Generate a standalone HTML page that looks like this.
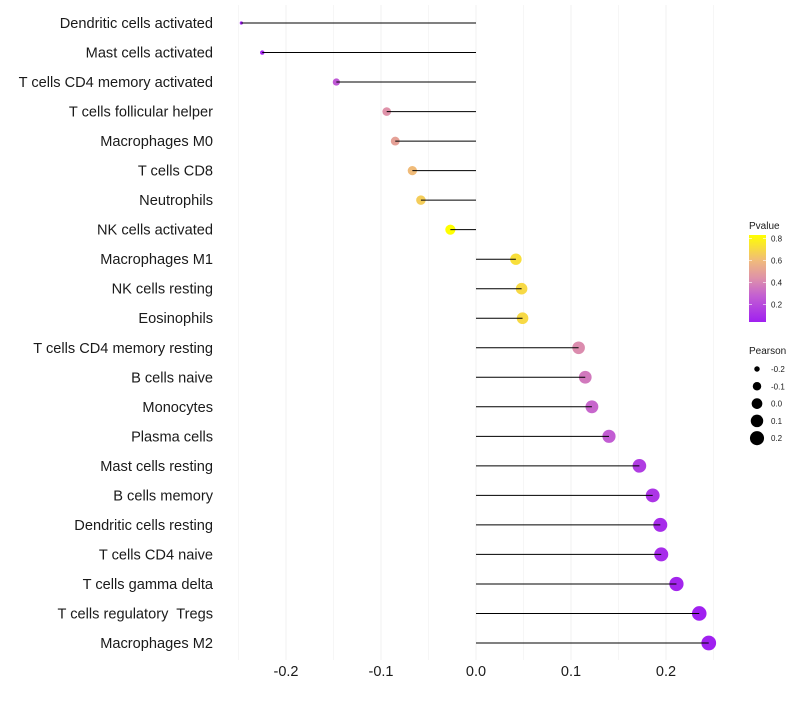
<!DOCTYPE html>
<html><head><meta charset="utf-8">
<style>
body{margin:0;background:#fff;font-family:"Liberation Sans",sans-serif;}
svg text{font-family:"Liberation Sans",sans-serif;white-space:pre;}
</style></head>
<body>
<svg id="chart" width="800" height="700" xmlns="http://www.w3.org/2000/svg"></svg>
<script>
const categories=["Dendritic cells activated","Mast cells activated","T cells CD4 memory activated","T cells follicular helper","Macrophages M0","T cells CD8","Neutrophils","NK cells activated","Macrophages M1","NK cells resting","Eosinophils","T cells CD4 memory resting","B cells naive","Monocytes","Plasma cells","Mast cells resting","B cells memory","Dendritic cells resting","T cells CD4 naive","T cells gamma delta","T cells regulatory  Tregs","Macrophages M2"];
const pearson=[-0.247,-0.225,-0.147,-0.094,-0.085,-0.067,-0.058,-0.027,0.042,0.048,0.049,0.108,0.115,0.122,0.140,0.172,0.186,0.194,0.195,0.211,0.235,0.245];
const pvalues=[0.04,0.06,0.25,0.44,0.5,0.6,0.66,0.83,0.72,0.7,0.7,0.42,0.36,0.3,0.27,0.15,0.12,0.09,0.09,0.06,0.04,0.04];
const xTicks=[-0.2,-0.1,0.0,0.1,0.2];
const xTickLabels=["-0.2","-0.1","0.0","0.1","0.2"];
const pTicks=[0.2,0.4,0.6,0.8];
const sizeTicks=[-0.2,-0.1,0.0,0.1,0.2];

const NS="http://www.w3.org/2000/svg";
const svg=document.getElementById("chart");
function el(t,a){const e=document.createElementNS(NS,t);for(const k in a)e.setAttribute(k,a[k]);svg.appendChild(e);return e;}
const xS=v=>476+v*950;
const yS=i=>23+i*(620/21);
const pmin=0.04,pmax=0.83;
const cstops=[[0,[160,32,240]],[0.3,[195,95,210]],[0.5,[222,145,170]],[0.7,[240,185,125]],[1,[255,255,0]]];
function col(p){let t=Math.max(0,Math.min(1,(p-pmin)/(pmax-pmin)));
 for(let k=1;k<cstops.length;k++){if(t<=cstops[k][0]){const a=cstops[k-1],b=cstops[k];const u=(t-a[0])/(b[0]-a[0]);
  const c=a[1].map((x,j)=>Math.round(x+(b[1][j]-x)*u));return `rgb(${c[0]},${c[1]},${c[2]})`;}}
 return "rgb(255,255,0)";}
function rad(v){const t=(v+0.25)/0.495;return Math.sqrt(2.25+t*52);}

for(let v=-0.25;v<=0.251;v+=0.05){
 const g=el("line",{x1:xS(v),x2:xS(v),y1:5,y2:660,stroke:"#f0f0f0","stroke-width":Math.abs(Math.round(v*20))%2===0?1:0.6});
 
 
}
xTicks.forEach((v,i)=>{
 const t=el("text",{x:xS(v),y:676,"text-anchor":"middle","font-size":14.5,fill:"#1a1a1a"});
 t.textContent=xTickLabels[i];
 
 
});
categories.forEach((c,i)=>{
 const y=yS(i);
 const t=el("text",{x:213,y:y+5,"text-anchor":"end","font-size":14.6,fill:"#1a1a1a"});
 t.textContent=c;
 
 
 const d=el("circle",{cx:xS(pearson[i]),cy:y,r:rad(pearson[i]),fill:col(pvalues[i])});
 
 
 const l=el("line",{x1:xS(0),x2:xS(pearson[i]),y1:y,y2:y,stroke:"#000","stroke-width":1});
 
 
});
const lt=el("text",{x:749,y:229,"font-size":10,fill:"#1a1a1a"});lt.textContent="Pvalue";


const defs=el("defs",{});
const lg=document.createElementNS(NS,"linearGradient");lg.setAttribute("id","pg");lg.setAttribute("x1","0");lg.setAttribute("y1","1");lg.setAttribute("x2","0");lg.setAttribute("y2","0");defs.appendChild(lg);
cstops.forEach(s=>{const st=document.createElementNS(NS,"stop");st.setAttribute("offset",s[0]);st.setAttribute("stop-color",`rgb(${s[1].join(",")})`);lg.appendChild(st);});
const cb=el("rect",{x:749,y:235,width:17,height:87,fill:"url(#pg)"});


const pY=p=>322-(p-pmin)/(pmax-pmin)*87;
pTicks.forEach(p=>{
 el("line",{x1:749,x2:752,y1:pY(p),y2:pY(p),stroke:"#fff","stroke-width":0.6});
 el("line",{x1:763,x2:766,y1:pY(p),y2:pY(p),stroke:"#fff","stroke-width":0.6});
 const t=el("text",{x:771,y:pY(p)+3,"font-size":8,fill:"#1a1a1a"});t.textContent=p.toFixed(1);
 
 
});
const st=el("text",{x:749,y:354,"font-size":10,fill:"#1a1a1a"});st.textContent="Pearson";


sizeTicks.forEach((v,i)=>{
 const y=369+i*17.3;
 const c=el("circle",{cx:757,cy:y,r:rad(v),fill:"#000"});
 
 
 const t=el("text",{x:771,y:y+3,"font-size":8,fill:"#1a1a1a"});t.textContent=v.toFixed(1);
 
 
});
</script>
</body></html>
